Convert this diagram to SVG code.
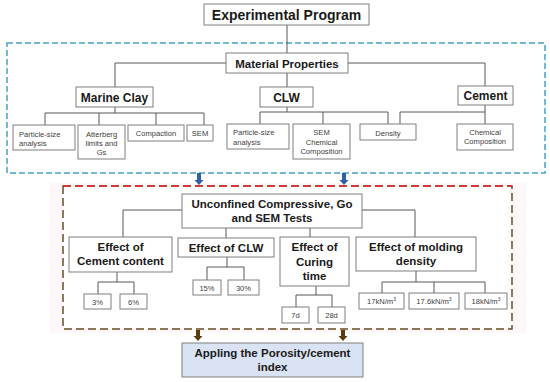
<svg xmlns="http://www.w3.org/2000/svg" width="550" height="382" viewBox="0 0 550 382">
<style>
.box{fill:#fff;stroke:#7f7f7f;stroke-width:1}
.ln{fill:none;stroke:#595959;stroke-width:1}
.h{font-family:"Liberation Sans",Arial,sans-serif;font-weight:bold;font-size:11.5px;fill:#1a1a1a;text-anchor:middle}
.s{font-family:"Liberation Sans",Arial,sans-serif;font-size:7.6px;fill:#404040;text-anchor:middle}
.sl{font-family:"Liberation Sans",Arial,sans-serif;font-size:7.6px;fill:#404040}
</style>
<rect width="550" height="382" fill="#fff"/>
<rect x="50" y="183" width="476" height="150" fill="#fef7fa"/>
<rect x="63" y="186" width="449" height="143" fill="#fff"/>
<g id="frames">
<rect x="7" y="43" width="538" height="130" fill="none" stroke="#45a2c9" stroke-width="1.5" stroke-dasharray="6,3"/>
<rect x="63" y="186" width="449" height="143" fill="none" stroke="#6b4c1e" stroke-width="1.5" stroke-dasharray="8,4"/>
<line x1="63" y1="186" x2="512" y2="186" stroke="#e52a2f" stroke-width="1.5" stroke-dasharray="8,4"/>
</g>
<g id="connectors">
<path class="ln" d="M287 25V53M226 63H115V87M348 63H485V86M287 73V87"/>
<path class="ln" d="M115 107V113M45 113H204M45 113V125M99 113V125M156 113V125M204 113V125"/>
<path class="ln" d="M287 107V112M260 112H388V124M260 112V124M323 112V124"/>
<path class="ln" d="M485 105V124M485 112H400V124"/>
<path class="ln" d="M182 210H123V237M226 228V238M310 228V237M362 210H415V237"/>
<path class="ln" d="M117 272V282M98 282H134M98 282V294M134 282V294"/>
<path class="ln" d="M227 257V267M207 267H244M207 267V280M244 267V280"/>
<path class="ln" d="M316 286V295M296 295H332M296 295V307M332 295V307"/>
<path class="ln" d="M416 271V282M382 282H485M382 282V293M434 282V293M485 282V293"/>
<polygon points="197,173 201,173 201,180 203.5,180 199,185 194.5,180 197,180" fill="#2f5eaa"/>
<polygon points="342,173 346,173 346,180 348.5,180 344,185 339.5,180 342,180" fill="#2f5eaa"/>
<polygon points="196,330 200,330 200,336 202.5,336 198,341 193.5,336 196,336" fill="#5c3a0e"/>
<polygon points="341,330 345,330 345,336 347.5,336 343,341 338.5,336 341,336" fill="#5c3a0e"/>
</g>
<g id="experimental-program"><rect class="box" x="204" y="4" width="165" height="21"/><text class="h" x="286.5" y="19.5" style="font-size:14px">Experimental Program</text></g>
<g id="material-properties"><rect class="box" x="226" y="53" width="122" height="20"/><text class="h" x="287" y="67.5">Material Properties</text></g>
<g id="marine-clay"><rect class="box" x="76" y="87" width="77" height="20"/><text class="h" x="114.5" y="101.5" style="font-size:12px">Marine Clay</text></g>
<g id="clw"><rect class="box" x="260" y="87" width="53" height="20"/><text class="h" x="286.5" y="101.5" style="font-size:12px">CLW</text></g>
<g id="cement"><rect class="box" x="458" y="86" width="55" height="19"/><text class="h" x="485.5" y="100" style="font-size:12px">Cement</text></g>
<g id="mc-particle"><rect class="box" x="13" y="125" width="62" height="25"/><text class="sl" x="19" y="137">Particle-size</text><text class="sl" x="19" y="146">analysis</text></g>
<g id="mc-atterberg"><rect class="box" x="78" y="125" width="47" height="34"/><text class="s" x="101.5" y="137">Atterberg</text><text class="s" x="101.5" y="146">limits and</text><text class="s" x="101.5" y="155">Gs</text></g>
<g id="mc-compaction"><rect class="box" x="128" y="125" width="56" height="16"/><text class="s" x="156" y="136">Compaction</text></g>
<g id="mc-sem"><rect class="box" x="187" y="125" width="26" height="16"/><text class="s" x="200" y="136">SEM</text></g>
<g id="clw-particle"><rect class="box" x="227" y="124" width="62" height="25"/><text class="sl" x="233" y="135">Particle-size</text><text class="sl" x="233" y="145">analysis</text></g>
<g id="clw-sem"><rect class="box" x="293" y="124" width="57" height="35"/><text class="s" x="321.5" y="135">SEM</text><text class="s" x="321.5" y="145">Chemical</text><text class="s" x="321.5" y="154">Composition</text></g>
<g id="density"><rect class="box" x="360" y="124" width="56" height="16"/><text class="s" x="388" y="135.5">Density</text></g>
<g id="cem-chemical"><rect class="box" x="457" y="124" width="56" height="26"/><text class="s" x="485" y="135">Chemical</text><text class="s" x="485" y="144">Composition</text></g>
<g id="unconfined"><rect class="box" x="182" y="194" width="180" height="34"/><text class="h" x="272" y="208">Unconfined Compressive, Go</text><text class="h" x="272" y="222">and SEM Tests</text></g>
<g id="effect-cement"><rect class="box" x="69" y="237" width="103" height="35"/><text class="h" x="120.5" y="251">Effect of</text><text class="h" x="120.5" y="265">Cement content</text></g>
<g id="effect-clw"><rect class="box" x="178" y="238" width="96" height="19"/><text class="h" x="226" y="252">Effect of CLW</text></g>
<g id="effect-curing"><rect class="box" x="280" y="237" width="69" height="49"/><text class="h" x="314.5" y="251">Effect of</text><text class="h" x="314.5" y="265.5">Curing</text><text class="h" x="314.5" y="279.5">time</text></g>
<g id="effect-molding"><rect class="box" x="356" y="237" width="120" height="34"/><text class="h" x="416" y="251">Effect of molding</text><text class="h" x="416" y="265">density</text></g>
<g id="c3"><rect class="box" x="84" y="294" width="27" height="15"/><text class="s" x="97.5" y="304.5">3%</text></g>
<g id="c6"><rect class="box" x="120" y="294" width="27" height="15"/><text class="s" x="133.5" y="304.5">6%</text></g>
<g id="w15"><rect class="box" x="193" y="280" width="28" height="15"/><text class="s" x="207" y="290.5">15%</text></g>
<g id="w30"><rect class="box" x="228" y="280" width="31" height="15"/><text class="s" x="243.5" y="290.5">30%</text></g>
<g id="d7"><rect class="box" x="282" y="307" width="27" height="16"/><text class="s" x="295.5" y="318">7d</text></g>
<g id="d28"><rect class="box" x="318" y="307" width="27" height="16"/><text class="s" x="331.5" y="318">28d</text></g>
<g id="m17"><rect class="box" x="359" y="293" width="45" height="16"/><text class="s" x="381.5" y="304">17kN/m<tspan font-size="5" dy="-3">3</tspan></text></g>
<g id="m176"><rect class="box" x="409" y="293" width="50" height="16"/><text class="s" x="434" y="304">17.6kN/m<tspan font-size="5" dy="-3">3</tspan></text></g>
<g id="m18"><rect class="box" x="465" y="293" width="42" height="16"/><text class="s" x="486" y="304">18kN/m<tspan font-size="5" dy="-3">3</tspan></text></g>
<g id="appling"><rect x="182" y="343" width="181" height="34" fill="#dae3f3" stroke="#7f7f7f" stroke-width="1"/><text class="h" x="272.5" y="357">Appling the Porosity/cement</text><text class="h" x="272.5" y="371">index</text></g>
</svg>
